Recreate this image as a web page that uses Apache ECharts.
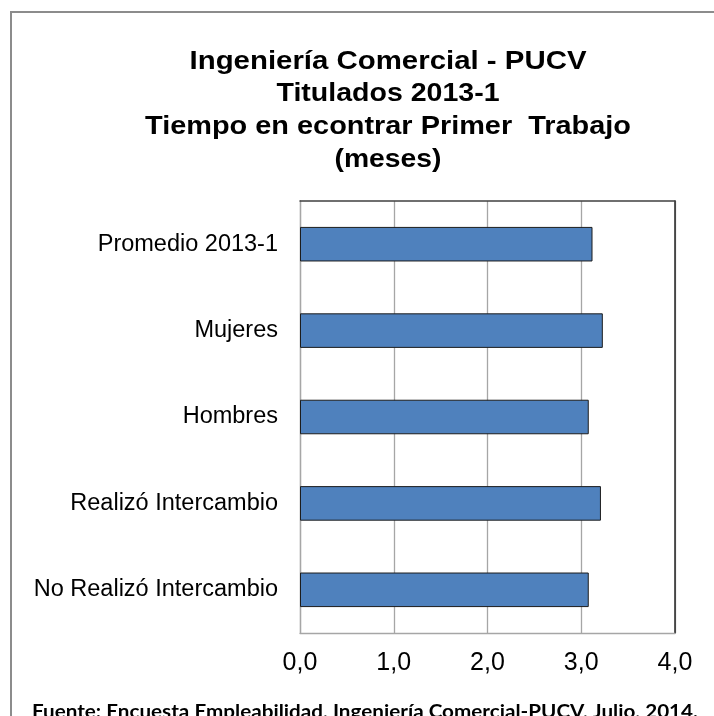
<!DOCTYPE html>
<html>
<head>
<meta charset="utf-8">
<script src="https://cdn.jsdelivr.net/npm/echarts@6/dist/echarts.min.js"></script>
<style>
  html, body { margin: 0; padding: 0; background: #fff; }
  #chartcontainer { width: 714px; height: 716px; }
</style>
</head>
<body>
<div id="chartcontainer"></div>
<script>
const categories = ['Promedio 2013-1', 'Mujeres', 'Hombres', 'Realizó Intercambio', 'No Realizó Intercambio']
const meses = [3.12, 3.23, 3.08, 3.21, 3.08]
const xTickLabels = ['0,0', '1,0', '2,0', '3,0', '4,0']
const titleLines = ['Ingeniería Comercial - PUCV', 'Titulados 2013-1', 'Tiempo en econtrar Primer  Trabajo', '(meses)']
const footer = 'Fuente: Encuesta Empleabilidad, Ingeniería Comercial-PUCV, Julio, 2014.'

// the source picture is a bit stretched sideways, fit each text line to its width
const ctx = document.createElement('canvas').getContext('2d')
function fitScale (text, font, target) {
  ctx.font = font
  return target / ctx.measureText(text).width
}

const titleFont = 'bold 25px "Liberation Sans"'
const titleWidths = [397, 223, 486, 107]
const titleY = [62, 94, 127, 160]
const footerFont = 'bold 18px Lato'

const graphic = [
  {
    type: 'rect',
    silent: true,
    z: -10,
    shape: { x: 11, y: 12, width: 800, height: 800 },
    style: { fill: null, stroke: '#8c8c8c', lineWidth: 2 }
  }
]
titleLines.forEach((t, i) => {
  graphic.push({
    type: 'text',
    x: 388,
    y: titleY[i],
    scaleX: fitScale(t, titleFont, titleWidths[i]),
    style: { text: t, font: titleFont, fill: '#000', align: 'center', verticalAlign: 'middle' }
  })
})
graphic.push({
  type: 'text',
  x: 365,
  y: 712,
  scaleX: fitScale(footer, footerFont, 666),
  style: { text: footer, font: footerFont, fill: '#000', align: 'center', verticalAlign: 'middle' }
})

const chart = echarts.init(document.getElementById('chartcontainer'))
chart.setOption({
  animation: false,
  backgroundColor: '#fff',
  grid: { left: 300, top: 201, width: 375, height: 432 },
  xAxis: [
    {
      type: 'value',
      min: 0,
      max: 4,
      interval: 1,
      position: 'bottom',
      axisLine: { show: true, onZero: false, lineStyle: { color: '#a6a6a6', width: 1.3 } },
      axisTick: { show: false },
      splitLine: { show: true, lineStyle: { color: '#a6a6a6', width: 1.3 } },
      axisLabel: {
        formatter: v => xTickLabels[v],
        fontFamily: 'Liberation Sans',
        fontSize: 25,
        color: '#000',
        margin: 18
      }
    },
    {
      type: 'value',
      min: 0,
      max: 4,
      interval: 1,
      position: 'top',
      axisLine: { show: true, onZero: false, lineStyle: { color: '#404040', width: 1.5 } },
      axisTick: { show: false },
      axisLabel: { show: false },
      splitLine: { show: false }
    }
  ],
  yAxis: [
    {
      type: 'category',
      data: categories,
      inverse: true,
      axisLine: { show: true, onZero: false, lineStyle: { color: '#a6a6a6', width: 1.3 } },
      axisTick: { show: false },
      axisLabel: {
        fontFamily: 'Liberation Sans',
        fontSize: 23.5,
        color: '#000',
        margin: 22
      }
    },
    {
      type: 'category',
      data: categories,
      inverse: true,
      position: 'right',
      axisLine: { show: true, onZero: false, lineStyle: { color: '#262626', width: 1.5 } },
      axisTick: { show: false },
      axisLabel: { show: false }
    }
  ],
  series: [
    {
      type: 'bar',
      data: meses,
      barWidth: '40%',
      itemStyle: { color: '#4f81bd', borderColor: '#1c1c1c', borderWidth: 1 }
    }
  ],
  graphic: graphic
})
</script>
</body>
</html>
